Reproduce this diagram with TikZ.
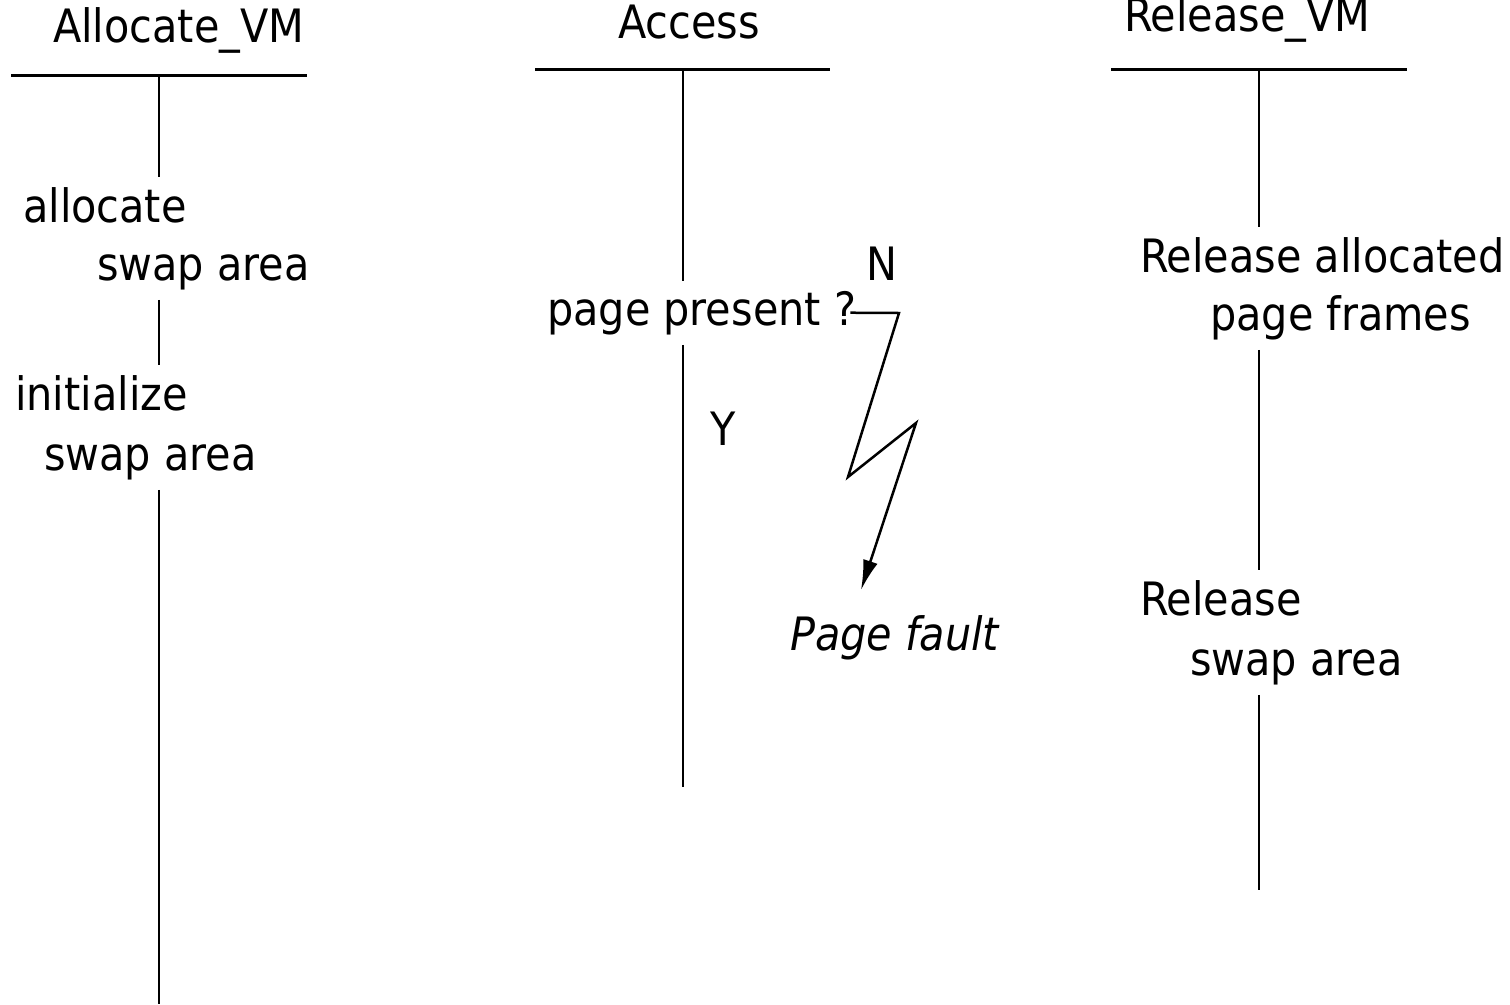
\documentclass[tikz,border=0pt]{standalone}
\usepackage{fontspec}
\setmainfont{DejaVu Sans Condensed}
\usepackage{tikz}
\usetikzlibrary{arrows.meta}

\begin{document}
\begin{tikzpicture}[x=1pt,y=-1pt,
    txt/.style={anchor=base west,inner xsep=0pt,inner ysep=10pt,font=\fontsize{46}{56}\selectfont},
    bar/.style={line width=3pt},
    life/.style={line width=2.7pt},
    bolt/.style={line width=2.5pt,-{Latex[length=30pt,width=15pt]}}
]
\useasboundingbox (0,0) rectangle (1510,1004);

% Allocate_VM
\node[txt] (allocvm) at (53,42) {Allocate\_VM};
\coordinate (bar1w) at (11,75);
\coordinate (bar1e) at (307,75);
\coordinate (life1) at (159,75);
\node[txt] (alloc1) at (23,222) {allocate};
\node[txt] (alloc2) at (97,280) {swap area};
\node[txt] (init1) at (15,410) {initialize};
\node[txt] (init2) at (44,470) {swap area};
\coordinate (end1) at (159,1004);
\draw[bar] (bar1w) -- (bar1e);
\draw[life] (life1) -- (life1 |- alloc1.north);
\draw[life] (life1 |- alloc2.south) -- (life1 |- init1.north);
\draw[life] (life1 |- init2.south) -- (end1);

% Access
\node[txt] (access) at (618,38) {Access};
\coordinate (bar2w) at (535,69);
\coordinate (bar2e) at (830,69);
\coordinate (life2) at (683,69);
\node[txt] (present) at (547,325) {page present ?};
\node[txt] (yes) at (710,445) {Y};
\node[txt] (no) at (866,280) {N};
\node[txt,font=\fontsize{46}{56}\selectfont\itshape] (fault) at (790,650) {Page fault};
\coordinate (end2) at (683,787);
\draw[bar] (bar2w) -- (bar2e);
\draw[life] (life2) -- (life2 |- present.north);
\draw[life] (life2 |- present.south) -- (end2);
% page fault bolt
\coordinate (z1) at (899,313);
\coordinate (z2) at (848,477);
\coordinate (z3) at (916,423);
\coordinate (z4) at (861,590);
\draw[bolt] ([xshift=-6pt]present.east) -- (z1) -- (z2) -- (z3) -- (z4);

% Release_VM
\node[txt] (releasevm) at (1124,31) {Release\_VM};
\coordinate (bar3w) at (1111,69);
\coordinate (bar3e) at (1407,69);
\coordinate (life3) at (1259,69);
\node[txt] (rel1) at (1140,272) {Release allocated};
\node[txt] (rel2) at (1210,330) {page frames};
\node[txt] (rel3) at (1140,615) {Release};
\node[txt] (rel4) at (1190,675) {swap area};
\coordinate (end3) at (1259,890);
\draw[bar] (bar3w) -- (bar3e);
\draw[life] (life3) -- (life3 |- rel1.north);
\draw[life] (life3 |- rel2.south) -- (life3 |- rel3.north);
\draw[life] (life3 |- rel4.south) -- (end3);
\end{tikzpicture}
\end{document}
